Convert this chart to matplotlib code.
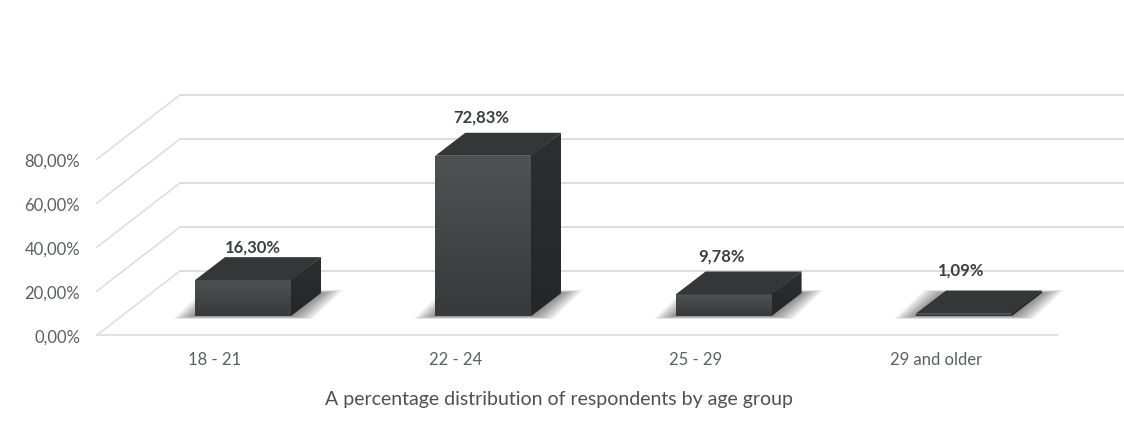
"""Pseudo-3D bar chart: age groups of respondents."""
import numpy as np
import matplotlib
matplotlib.use("Agg")
import matplotlib.pyplot as plt
from matplotlib.colors import LinearSegmentedColormap
from matplotlib.patches import Polygon

plt.rcParams['font.family'] = ['Lato', 'DejaVu Sans']

# data
categories = ['18 - 21', '22 - 24', '25 - 29', '29 and older']
values = [16.30, 72.83, 9.78, 1.09]
value_labels = ['16,30%', '72,83%', '9,78%', '1,09%']
y_ticks = [0, 20, 40, 60, 80]
y_tick_labels = ['0,00%', '20,00%', '40,00%', '60,00%', '80,00%']
x_title = 'A percentage distribution of respondents by age group'

# scale: pixels per category and per percent point, origin at first bar base
PX_X = 240.3
PX_Y = 2.2
X0, Y0 = 243, 316
W, H = 1124, 432

BAR_W = 96 / PX_X
BAR_DX = 30 / PX_X      # depth of a bar
BAR_DY = 23 / PX_Y
FLOOR_DX = 83 / PX_X    # depth of the floor
FLOOR_DY = 64 / PX_Y
FLOOR_Y = -19 / PX_Y    # front edge of the floor, below the bar base
FLOOR_X0 = (97 - X0) / PX_X
FLOOR_X1 = (1058 - X0) / PX_X
FLOOR_SHIFT = -28 / PX_X

GRID = '#dedede'
TEXT = '#5a5f63'


def shaded(ax, pts, c_top, c_bottom, z):
    # polygon with vertical gradient
    pts = np.array(pts)
    cmap = LinearSegmentedColormap.from_list('g', [c_top, c_bottom])
    im = ax.imshow(np.linspace(0, 1, 64).reshape(-1, 1), cmap=cmap, aspect='auto', zorder=z,
                   extent=[pts[:, 0].min(), pts[:, 0].max(), pts[:, 1].min(), pts[:, 1].max()],
                   origin='upper', interpolation='bilinear')
    clip = Polygon(pts, closed=True, transform=ax.transData, facecolor='none', edgecolor='none')
    ax.add_patch(clip)
    im.set_clip_path(clip)


def draw_bar(ax, i, v):
    l, r = i - BAR_W / 2, i + BAR_W / 2
    seam = 1 / PX_X

    # soft shadow on the floor
    for t in np.linspace(1, 0, 14):
        ex = (22 * t) / PX_X
        ey = (3 * t) / PX_Y
        ax.add_patch(Polygon([(l - ex, -ey), (r + ex, -ey),
                              (r + BAR_DX + ex, BAR_DY + ey), (l + BAR_DX - ex, BAR_DY + ey)],
                             closed=True, facecolor='black', edgecolor='none', alpha=0.04, zorder=3))

    shaded(ax, [(r - seam, 0), (r, 0), (r + BAR_DX, BAR_DY), (r + BAR_DX, v + BAR_DY), (r - seam, v)],
           '#2c2e30', '#242628', 4)
    shaded(ax, [(l, 0), (r, 0), (r, v), (l, v)], '#505153', '#38393b', 4.5)
    ax.add_patch(Polygon([(l, v), (r, v), (r + BAR_DX, v + BAR_DY), (l + BAR_DX, v + BAR_DY)],
                         closed=True, facecolor='#343638', edgecolor='none', zorder=5))


fig = plt.figure(figsize=(W / 100, H / 100), dpi=100, facecolor='white')
ax = fig.add_axes([0, 0, 1, 1])

# walls and floor gridlines
for t, lab in zip(y_ticks, y_tick_labels):
    y = FLOOR_Y + t
    ax.plot([FLOOR_X0, FLOOR_X0 + FLOOR_DX], [y, y + FLOOR_DY], color=GRID, lw=1.2, zorder=1)
    ax.plot([FLOOR_X0 + FLOOR_DX, (W - X0) / PX_X], [y + FLOOR_DY, y + FLOOR_DY], color=GRID, lw=1.4, zorder=1)
    ax.text((80 - X0) / PX_X, y - 1.2, lab, ha='right', va='center', fontsize=12, color=TEXT)
ax.plot([FLOOR_X0, FLOOR_X1], [FLOOR_Y, FLOOR_Y], color=GRID, lw=1.2, zorder=1)

# label nudges in pixels, the chart places them a little unevenly
nudge_x = [10, -2, -2, -3]
nudge_y = [10, 15, 15, 20]

for i, (v, lab, cat) in enumerate(zip(values, value_labels, categories)):
    draw_bar(ax, i, v)
    ax.text(i + nudge_x[i] / PX_X, v + BAR_DY + nudge_y[i] / PX_Y, lab, ha='center', va='center',
            fontsize=12, fontweight='bold', color='#3a3f44', zorder=6)
    ax.text(i + FLOOR_SHIFT, FLOOR_Y - 25 / PX_Y, cat, ha='center', va='center', fontsize=12, color=TEXT)

ax.text((559 - X0) / PX_X, FLOOR_Y - 65 / PX_Y, x_title, ha='center', va='center', fontsize=14, color='#4d5156')

ax.set_xlim(-X0 / PX_X, (W - X0) / PX_X)
ax.set_ylim(-(H - Y0) / PX_Y, Y0 / PX_Y)
ax.axis('off')

fig.savefig('out.png', dpi=100)
